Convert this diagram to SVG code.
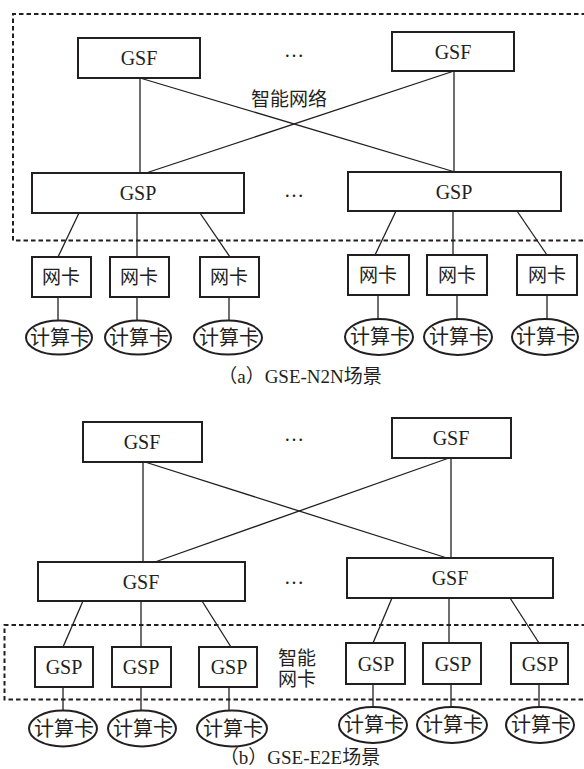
<svg xmlns="http://www.w3.org/2000/svg" width="584" height="769" viewBox="0 0 584 769">
<style>
.box{fill:#fff;stroke:#231f20;stroke-width:2}
.ell{fill:#fff;stroke:#231f20;stroke-width:2}
.ln{stroke:#231f20;stroke-width:1.3;fill:none}
.dash{stroke:#231f20;stroke-width:2;fill:none;stroke-dasharray:4.5 3}
text{font-family:"Liberation Serif","Noto Sans CJK SC",serif;fill:#231f20;text-anchor:middle}
.t{font-size:20px}
.z{font-size:19px}
.c{font-size:20px}
.cap{font-size:19px}
.p{font-family:"Noto Sans CJK SC",sans-serif}
</style>
<rect width="584" height="769" fill="#fff"/>
<!-- (a) -->
<g id="region-a"><path class="dash" d="M586 14 H13 V240.5 H586"/></g>
<g id="connectors-a">
<line class="ln" x1="140" y1="78" x2="140" y2="173"/>
<line class="ln" x1="140" y1="78" x2="455" y2="172"/>
<line class="ln" x1="454" y1="71" x2="454" y2="172"/>
<line class="ln" x1="454" y1="71" x2="146" y2="173"/>
<line class="ln" x1="79" y1="213" x2="58" y2="257"/>
<line class="ln" x1="137" y1="213" x2="137" y2="257"/>
<line class="ln" x1="200" y1="213" x2="230" y2="257"/>
<line class="ln" x1="396" y1="211" x2="375" y2="255"/>
<line class="ln" x1="453" y1="211" x2="453" y2="255"/>
<line class="ln" x1="517" y1="211" x2="547" y2="255"/>
<line class="ln" x1="58" y1="297" x2="58" y2="320"/>
<line class="ln" x1="137" y1="297" x2="137" y2="320"/>
<line class="ln" x1="229" y1="297" x2="229" y2="320"/>
<line class="ln" x1="378" y1="295" x2="378" y2="319"/>
<line class="ln" x1="457" y1="295" x2="457" y2="319"/>
<line class="ln" x1="547" y1="295" x2="547" y2="319"/>
</g>
<g id="gsf-a1"><rect class="box" x="78" y="38" width="122" height="40"/><text class="t" x="139" y="65">GSF</text></g>
<g id="gsf-a2"><rect class="box" x="392" y="32" width="122" height="39"/><text class="t" x="453" y="59">GSF</text></g>
<text class="t" x="294" y="57">…</text>
<text class="z" x="289" y="106">智能网络</text>
<g id="gsp-a1"><rect class="box" x="32" y="173" width="212" height="40"/><text class="t" x="138" y="200">GSP</text></g>
<g id="gsp-a2"><rect class="box" x="348" y="172" width="213" height="39"/><text class="t" x="454" y="199">GSP</text></g>
<text class="t" x="294" y="197">…</text>
<g id="nic-a1"><rect class="box" x="32" y="257" width="59" height="40"/><text class="z" x="61" y="284">网卡</text></g>
<g id="nic-a2"><rect class="box" x="110" y="257" width="59" height="40"/><text class="z" x="139" y="284">网卡</text></g>
<g id="nic-a3"><rect class="box" x="200" y="257" width="59" height="40"/><text class="z" x="229" y="284">网卡</text></g>
<g id="nic-a4"><rect class="box" x="348" y="255" width="61" height="40"/><text class="z" x="378" y="282">网卡</text></g>
<g id="nic-a5"><rect class="box" x="427" y="255" width="60" height="40"/><text class="z" x="457" y="282">网卡</text></g>
<g id="nic-a6"><rect class="box" x="517" y="255" width="60" height="40"/><text class="z" x="547" y="282">网卡</text></g>
<g id="card-a1"><ellipse class="ell" cx="59" cy="337.5" rx="33" ry="17"/><text class="c" x="60" y="344.5">计算卡</text></g>
<g id="card-a2"><ellipse class="ell" cx="138" cy="337.5" rx="33" ry="17"/><text class="c" x="139" y="344.5">计算卡</text></g>
<g id="card-a3"><ellipse class="ell" cx="228" cy="337.5" rx="34" ry="17"/><text class="c" x="229" y="344.5">计算卡</text></g>
<g id="card-a4"><ellipse class="ell" cx="379" cy="337" rx="34" ry="18"/><text class="c" x="380" y="344">计算卡</text></g>
<g id="card-a5"><ellipse class="ell" cx="458" cy="337" rx="34" ry="18"/><text class="c" x="459" y="344">计算卡</text></g>
<g id="card-a6"><ellipse class="ell" cx="545" cy="337" rx="33" ry="18"/><text class="c" x="546" y="344">计算卡</text></g>
<text class="cap" x="300" y="383"><tspan class="p">（</tspan>a<tspan class="p">）</tspan>GSE-N2N场景</text>
<!-- (b) -->
<g id="connectors-b">
<line class="ln" x1="143" y1="462" x2="143" y2="562"/>
<line class="ln" x1="145" y1="462" x2="447" y2="558"/>
<line class="ln" x1="451" y1="458" x2="451" y2="558"/>
<line class="ln" x1="449" y1="458" x2="155" y2="562"/>
<line class="ln" x1="83" y1="601" x2="63" y2="647"/>
<line class="ln" x1="141" y1="601" x2="141" y2="647"/>
<line class="ln" x1="202" y1="601" x2="231" y2="647"/>
<line class="ln" x1="392" y1="598" x2="373" y2="643"/>
<line class="ln" x1="449" y1="598" x2="449" y2="643"/>
<line class="ln" x1="510" y1="598" x2="539" y2="643"/>
<line class="ln" x1="63" y1="687" x2="63" y2="710"/>
<line class="ln" x1="141" y1="687" x2="141" y2="710"/>
<line class="ln" x1="229" y1="687" x2="229" y2="710"/>
<line class="ln" x1="373" y1="684" x2="373" y2="707"/>
<line class="ln" x1="451" y1="684" x2="451" y2="707"/>
<line class="ln" x1="539" y1="684" x2="539" y2="707"/>
</g>
<g id="region-b"><path class="dash" d="M586 625 H4.5 V699.5 H586"/></g>
<g id="gsf-b1"><rect class="box" x="83" y="422" width="119" height="40"/><text class="t" x="142" y="449">GSF</text></g>
<g id="gsf-b2"><rect class="box" x="392" y="418" width="119" height="40"/><text class="t" x="451" y="445">GSF</text></g>
<text class="t" x="294" y="441">…</text>
<g id="gsf-b3"><rect class="box" x="38" y="562" width="207" height="39"/><text class="t" x="141" y="589">GSF</text></g>
<g id="gsf-b4"><rect class="box" x="347" y="558" width="206" height="40"/><text class="t" x="450" y="585">GSF</text></g>
<text class="t" x="294" y="584">…</text>
<g id="gsp-b1"><rect class="box" x="35" y="647" width="58" height="40"/><text class="t" x="64" y="674">GSP</text></g>
<g id="gsp-b2"><rect class="box" x="112" y="647" width="59" height="40"/><text class="t" x="141" y="674">GSP</text></g>
<g id="gsp-b3"><rect class="box" x="199" y="647" width="58" height="40"/><text class="t" x="229" y="674">GSP</text></g>
<g id="gsp-b4"><rect class="box" x="346" y="643" width="59" height="41"/><text class="t" x="376" y="671">GSP</text></g>
<g id="gsp-b5"><rect class="box" x="423" y="643" width="58" height="41"/><text class="t" x="453" y="671">GSP</text></g>
<g id="gsp-b6"><rect class="box" x="511" y="643" width="57" height="41"/><text class="t" x="540" y="671">GSP</text></g>
<text class="z" x="297" y="665">智能</text>
<text class="z" x="297" y="686">网卡</text>
<g id="card-b1"><ellipse class="ell" cx="63" cy="728.5" rx="34" ry="18"/><text class="c" x="64" y="735.5">计算卡</text></g>
<g id="card-b2"><ellipse class="ell" cx="142" cy="728.5" rx="34" ry="18"/><text class="c" x="143" y="735.5">计算卡</text></g>
<g id="card-b3"><ellipse class="ell" cx="232" cy="728.5" rx="35" ry="18"/><text class="c" x="233" y="735.5">计算卡</text></g>
<g id="card-b4"><ellipse class="ell" cx="373" cy="725" rx="34" ry="18"/><text class="c" x="374" y="732">计算卡</text></g>
<g id="card-b5"><ellipse class="ell" cx="452" cy="725" rx="35" ry="18"/><text class="c" x="453" y="732">计算卡</text></g>
<g id="card-b6"><ellipse class="ell" cx="540" cy="725" rx="34" ry="18"/><text class="c" x="541" y="732">计算卡</text></g>
<text class="cap" x="300" y="764"><tspan class="p">（</tspan>b<tspan class="p">）</tspan>GSE-E2E场景</text>
</svg>
